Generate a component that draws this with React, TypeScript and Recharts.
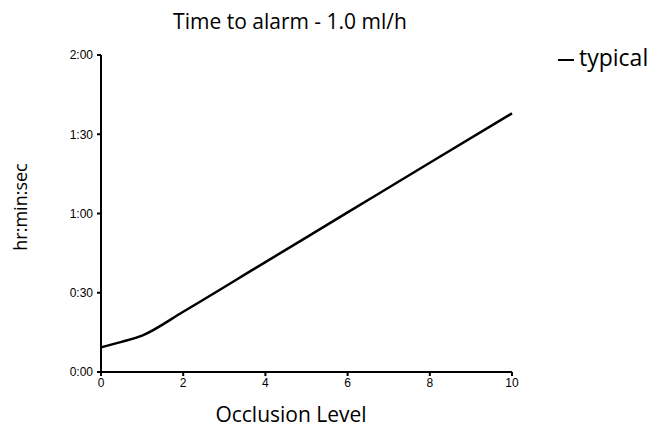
import { LineChart, Line, XAxis, YAxis, Label } from "recharts";

const occlusion = [0, 0.5, 1, 2, 4, 6, 8, 10];
const typicalMinutes = [9.3, 11.4, 13.8, 22.8, 41.6, 60.4, 79.2, 97.9];
const xTicks = [0, 2, 4, 6, 8, 10];
const yTicks = [0, 30, 60, 90, 120];

const data = occlusion.map((x, i) => ({ level: x, typical: typicalMinutes[i] }));

const TEXT_FONT = "'Open Sans', sans-serif";
const TICK_FONT = "'Liberation Sans', Arial, sans-serif";

const fmtTime = (m: number) => `${Math.floor(m / 60)}:${String(m % 60).padStart(2, "0")}`;

export default function App() {
  return (
    <div style={{ position: "absolute", left: 0, top: 0, width: 656, height: 430, background: "#fff" }}>
      <LineChart width={656} height={430} data={data} margin={{ top: 55, right: 144, bottom: 28, left: 0 }}>
        <XAxis
          dataKey="level"
          type="number"
          domain={[0, 10]}
          ticks={xTicks}
          stroke="#000"
          strokeWidth={2}
          tickSize={4}
          tickLine={{ stroke: "#000", strokeWidth: 2 }}
          tick={{ fill: "#000", fontSize: 12, fontFamily: TICK_FONT }}
          height={30}
        >
          <Label
            content={() => (
              <text x={291} y={422} textAnchor="middle" fontFamily={TEXT_FONT} fontSize={21} fill="#000">
                Occlusion Level
              </text>
            )}
          />
        </XAxis>
        <YAxis
          type="number"
          domain={[0, 120]}
          ticks={yTicks}
          tickFormatter={fmtTime}
          width={101}
          stroke="#000"
          strokeWidth={2}
          tickSize={4}
          tickMargin={4}
          tickLine={{ stroke: "#000", strokeWidth: 2 }}
          tick={{ fill: "#000", fontSize: 12, fontFamily: TICK_FONT }}
        >
          <Label
            content={() => (
              <text
                x={20}
                y={207}
                transform="rotate(-90 20 207)"
                textAnchor="middle"
                dominantBaseline="central"
                fontFamily={TEXT_FONT}
                fontSize={18}
                fill="#000"
              >
                hr:min:sec
              </text>
            )}
          />
        </YAxis>
        <Line
          type="monotone"
          dataKey="typical"
          stroke="#000"
          strokeWidth={2.5}
          dot={false}
          isAnimationActive={false}
        />
      </LineChart>
      <div
        style={{
          position: "absolute",
          left: 90,
          width: 400,
          top: 11,
          lineHeight: "21px",
          textAlign: "center",
          fontFamily: TEXT_FONT,
          fontSize: 21,
          color: "#000",
          whiteSpace: "nowrap",
        }}
      >
        Time to alarm - 1.0 ml/h
      </div>
      <div style={{ position: "absolute", left: 558, top: 59, width: 16, height: 2, background: "#000" }} />
      <div
        style={{
          position: "absolute",
          left: 579,
          top: 46,
          lineHeight: "23px",
          fontFamily: TEXT_FONT,
          fontSize: 23,
          color: "#000",
          whiteSpace: "nowrap",
        }}
      >
        typical
      </div>
    </div>
  );
}
